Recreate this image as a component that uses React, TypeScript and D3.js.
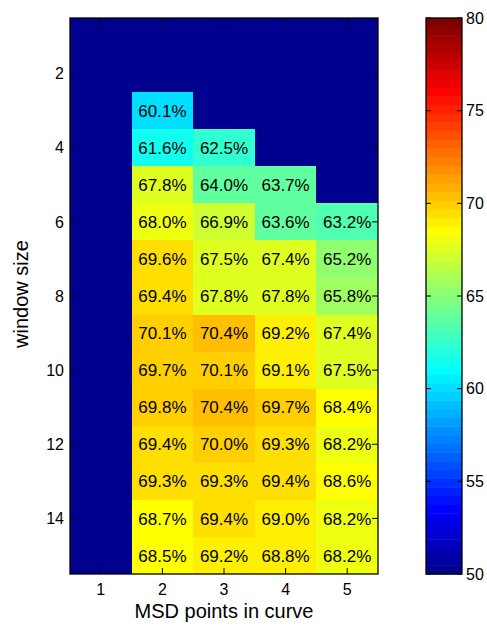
import React from "react";
import * as d3 from "d3";

// Classification accuracy (%) by window size (rows) and MSD points in curve (columns)
const msdPoints = [1, 2, 3, 4, 5];
const windowSizes = [1, 2, 3, 4, 5, 6, 7, 8, 9, 10, 11, 12, 13, 14, 15];
const acc1: (number | null)[] = [null, null, null, null, null, null, null, null, null, null, null, null, null, null, null];
const acc2: (number | null)[] = [null, null, 60.1, 61.6, 67.8, 68.0, 69.6, 69.4, 70.1, 69.7, 69.8, 69.4, 69.3, 68.7, 68.5];
const acc3: (number | null)[] = [null, null, null, 62.5, 64.0, 66.9, 67.5, 67.8, 70.4, 70.1, 70.4, 70.0, 69.3, 69.4, 69.2];
const acc4: (number | null)[] = [null, null, null, null, 63.7, 63.6, 67.4, 67.8, 69.2, 69.1, 69.7, 69.3, 69.4, 69.0, 68.8];
const acc5: (number | null)[] = [null, null, null, null, null, 63.2, 65.2, 65.8, 67.4, 67.5, 68.4, 68.2, 68.6, 68.2, 68.2];
const accByColumn = [acc1, acc2, acc3, acc4, acc5];

const xTicks = [1, 2, 3, 4, 5];
const yTicks = [2, 4, 6, 8, 10, 12, 14];
const cbTicks = [50, 55, 60, 65, 70, 75, 80];
const colorRange: [number, number] = [50, 80];

// 64-level jet colormap
function jet(m: number): string[] {
  const n = Math.ceil(m / 4);
  const u: number[] = [];
  for (let i = 1; i <= n; i++) u.push(i / n);
  for (let i = 0; i < n - 1; i++) u.push(1);
  for (let i = n; i >= 1; i--) u.push(i / n);
  const g0 = Math.ceil(n / 2) - (m % 4 === 1 ? 1 : 0);
  const J = Array.from({ length: m }, () => [0, 0, 0]);
  u.forEach((val, k) => {
    const g = g0 + k + 1;
    const r = g + n;
    const b = g - n;
    if (r >= 1 && r <= m) J[r - 1][0] = val;
    if (g >= 1 && g <= m) J[g - 1][1] = val;
    if (b >= 1 && b <= m) J[b - 1][2] = val;
  });
  return J.map(([r, g, b]) =>
    d3.rgb(Math.round(r * 255), Math.round(g * 255), Math.round(b * 255)).formatHex()
  );
}

const palette = jet(64);

export default function App() {
  const W = 487;
  const H = 628;
  const plot = { left: 70, right: 378, top: 18, bottom: 574 };
  const cb = { left: 426, right: 462, top: 18, bottom: 574 };
  const font = "'Liberation Sans', Arial, Helvetica, sans-serif";

  const x = d3.scaleLinear().domain([0.5, 5.5]).range([plot.left, plot.right]);
  const y = d3.scaleLinear().domain([0.5, 15.5]).range([plot.top, plot.bottom]);
  const color = d3.scaleQuantize<string>().domain(colorRange).range(palette);
  const cbY = d3.scaleLinear().domain(colorRange).range([cb.bottom, cb.top]);

  const cellColor = (v: number | null) =>
    v == null ? palette[0] : color(Math.min(Math.max(v, colorRange[0]), colorRange[1] - 1e-9));

  const tickLen = 6;
  const cbBand = (colorRange[1] - colorRange[0]) / palette.length;

  return (
    <svg width={W} height={H} style={{ position: "absolute", left: 0, top: 0 }} fontFamily={font}>
      <rect x={0} y={0} width={W} height={H} fill="#fff" />
      {/* heatmap cells */}
      {msdPoints.map((mp, ci) =>
        windowSizes.map((ws, ri) => {
          const v = accByColumn[ci][ri];
          const x0 = x(mp - 0.5);
          const x1 = x(mp + 0.5);
          const y0 = y(ws - 0.5);
          const y1 = y(ws + 0.5);
          return (
            <rect key={`c${ci}-${ri}`} x={x0} y={y0} width={x1 - x0} height={y1 - y0} fill={cellColor(v)} shapeRendering="crispEdges" />
          );
        })
      )}
      {/* cell labels */}
      {msdPoints.map((mp, ci) =>
        windowSizes.map((ws, ri) => {
          const v = accByColumn[ci][ri];
          if (v == null) return null;
          return (
            <text key={`t${ci}-${ri}`} x={x(mp)} y={y(ws)} dy="0.36em" textAnchor="middle" fontSize={17} fill="#000">
              {v.toFixed(1)}%
            </text>
          );
        })
      )}
      {/* axes frame */}
      <rect x={plot.left} y={plot.top} width={plot.right - plot.left} height={plot.bottom - plot.top} fill="none" stroke="#000" strokeWidth={1.3} />
      {xTicks.map((t) => (
        <g key={`xt${t}`}>
          <line x1={x(t)} x2={x(t)} y1={plot.bottom} y2={plot.bottom - tickLen} stroke="#000" />
          <line x1={x(t)} x2={x(t)} y1={plot.top} y2={plot.top + tickLen} stroke="#000" />
          <text x={x(t)} y={plot.bottom + 21} textAnchor="middle" fontSize={16} fill="#000">{t}</text>
        </g>
      ))}
      {yTicks.map((t) => (
        <g key={`yt${t}`}>
          <line x1={plot.left} x2={plot.left + tickLen} y1={y(t)} y2={y(t)} stroke="#000" />
          <line x1={plot.right} x2={plot.right - tickLen} y1={y(t)} y2={y(t)} stroke="#000" />
          <text x={plot.left - 6} y={y(t)} dy="0.36em" textAnchor="end" fontSize={16} fill="#000">{t}</text>
        </g>
      ))}
      <text x={(plot.left + plot.right) / 2} y={618} textAnchor="middle" fontSize={20} fill="#000">MSD points in curve</text>
      <text transform={`translate(28,${(plot.top + plot.bottom) / 2 - 2}) rotate(-90)`} textAnchor="middle" fontSize={20} fill="#000">window size</text>

      {/* colorbar */}
      {palette.map((c, i) => {
        const v0 = colorRange[0] + i * cbBand;
        const ya = cbY(v0 + cbBand);
        const yb = cbY(v0);
        return <rect key={`cb${i}`} x={cb.left} y={ya} width={cb.right - cb.left} height={yb - ya + 0.5} fill={c} />;
      })}
      <rect x={cb.left} y={cb.top} width={cb.right - cb.left} height={cb.bottom - cb.top} fill="none" stroke="#000" strokeWidth={1.3} />
      {cbTicks.map((t) => (
        <g key={`cbt${t}`}>
          <line x1={cb.left} x2={cb.left + 5} y1={cbY(t)} y2={cbY(t)} stroke="#000" />
          <line x1={cb.right} x2={cb.right - 5} y1={cbY(t)} y2={cbY(t)} stroke="#000" />
          <text x={cb.right + 4} y={cbY(t)} dy="0.36em" textAnchor="start" fontSize={16} fill="#000">{t}</text>
        </g>
      ))}
    </svg>
  );
}
